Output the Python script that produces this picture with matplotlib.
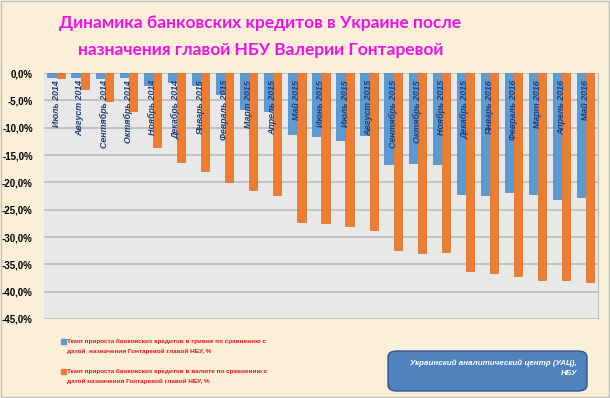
import matplotlib.pyplot as plt
import matplotlib.transforms as mtransforms
from matplotlib.patches import FancyBboxPatch, Rectangle
import numpy as np

# months since Gontareva's appointment
months = ["Июль 2014", "Август 2014", "Сентябрь 2014", "Октябрь 2014", "Ноябрь 2014",
          "Декабрь 2014", "Январь 2015", "Февраль 2015", "Март 2015", "Апрель 2015",
          "Май 2015", "Июнь 2015", "Июль 2015", "Август 2015", "Сентябрь 2015",
          "Октябрь 2015", "Ноябрь 2015", "Декабрь 2015", "Январь 2016", "Февраль 2016",
          "Март 2016", "Апрель 2016", "Май 2016"]

# growth of loans in hryvnia, %
uah = [-0.7, -0.7, -1.0, -0.8, -2.2, -1.6, -2.2, -3.8, -6.5, -6.9, -11.2, -11.5,
       -12.2, -11.3, -16.6, -16.5, -16.6, -22.1, -22.3, -21.8, -22.2, -23.0, -22.6]
# growth of loans in foreign currency, %
fx = [-1.0, -2.9, -5.1, -6.9, -13.5, -16.2, -17.9, -19.9, -21.4, -22.3, -27.2, -27.5,
      -28.0, -28.7, -32.4, -33.0, -32.8, -36.3, -36.5, -37.1, -37.8, -37.8, -38.3]

legend_labels = ["Темп прироста банковских кредитов в гривне по сравнению с\nдатой  назначения Гонтаревой главой НБУ, %",
                 "Темп прироста банковских кредитов в валюте по сравнению с\nдатой назначения Гонтаревой главой НБУ, %"]

bg = "#FAEFD7"
blue = "#5B9BD5"
orange = "#ED7D31"

fig = plt.figure(figsize=(6.1, 3.98), dpi=100, facecolor=bg)
fig.patches.append(Rectangle((0.002, 0.002), 0.996, 0.996, transform=fig.transFigure,
                             fill=False, edgecolor="#BFBFBF", linewidth=1))

ax = fig.add_axes([0.0721, 0.1985, 0.908, 0.618])
ax.set_facecolor("#E8E8E8")

x = np.arange(len(months))
w = 0.34
ax.bar(x - w / 2 - 0.02, uah, width=w, color=blue, edgecolor="#4A86C0", linewidth=0.5, zorder=3)
ax.bar(x + w / 2 + 0.02, fx, width=w, color=orange, edgecolor="#D96B22", linewidth=0.5, zorder=3)

ax.set_xlim(-0.5, len(months) - 0.5)
ax.set_ylim(-45, 0)
ax.set_yticks(np.arange(-45, 1, 5))
ax.set_yticklabels([f"{v:.1f}%".replace(".", ",") for v in np.arange(-45, 1, 5)],
                   fontsize=7, fontweight="bold", family="Liberation Sans")
ax.tick_params(axis="y", length=0, pad=8)
ax.set_xticks([])
ax.grid(axis="y", color="#BFBFBF", linewidth=1.3, zorder=1)
for s in ["top", "left", "bottom"]:
    ax.spines[s].set_visible(False)
ax.spines["right"].set_color("#BFBFBF")

trans = mtransforms.blended_transform_factory(ax.transData, ax.transAxes)
for i, m in enumerate(months):
    ax.text(x[i], 0.972, m, transform=trans, rotation=90, ha="center", va="top",
            fontsize=6.4, fontweight="bold", fontstyle="italic", color="#1F3F7A",
            family="Liberation Sans", zorder=5)

fig.text(0.427, 0.942, "Динамика банковских кредитов в Украине после", ha="center", va="center",
         fontsize=12.5, fontweight="bold", color="#F012E8", family="Lato")
fig.text(0.427, 0.874, "назначения главой НБУ Валерии Гонтаревой", ha="center", va="center",
         fontsize=12.5, fontweight="bold", color="#F012E8", family="Lato")

# legend
for j, (lab, col) in enumerate(zip(legend_labels, [blue, orange])):
    yy = 1 - (339 + 30 * j) / 398
    fig.patches.append(Rectangle((61 / 610, yy - 0.0115), 5 / 610, 5 / 398,
                                 transform=fig.transFigure, color=col))
    fig.text(67 / 610, yy, lab, ha="left", va="top", fontsize=4.6,
             fontweight="bold", color="#E8101A", family="Liberation Sans", linespacing=2.0)

# source box
box = FancyBboxPatch((388 / 610, 1 - 391 / 398), 199 / 610, 40 / 398,
                     boxstyle="round,pad=0,rounding_size=0.015", transform=fig.transFigure,
                     facecolor="#4F81BD", edgecolor="#2F5597", linewidth=1)
fig.patches.append(box)
fig.text(577 / 610, 1 - 368 / 398, "Украинский аналитический центр (УАЦ),\nНБУ", ha="right",
         va="center", fontsize=5.8, fontweight="bold", fontstyle="italic", color="white",
         family="Liberation Sans", linespacing=1.5, multialignment="right")

fig.savefig("out.png", dpi=100, facecolor=bg)
